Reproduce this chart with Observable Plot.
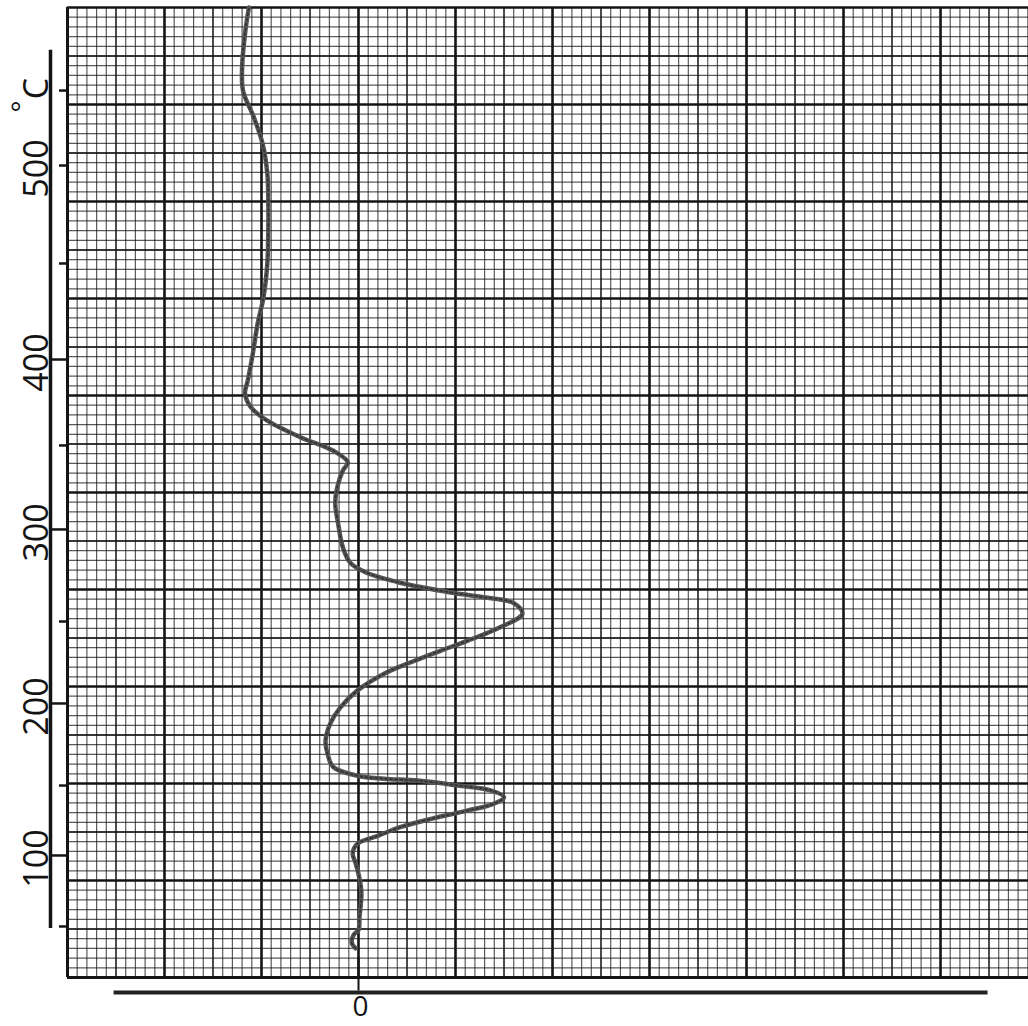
<!DOCTYPE html>
<html>
<head>
<meta charset="utf-8">
<script src="https://cdn.jsdelivr.net/npm/d3@7"></script>
<script src="https://cdn.jsdelivr.net/npm/@observablehq/plot@0.6"></script>
<style>
  html, body { margin: 0; padding: 0; background: #fff; }
  #chart svg { display: block; }
</style>
</head>
<body>
<div id="chart"></div>
<script>
// Thermal (DTA) record on millimetre chart paper.
// deflection: pen deflection from the zero line, in minor chart divisions
// position: distance along the chart from its bottom edge, in minor chart divisions
const deflection = [-0.3,-0.7,-0.5,0,0.1,0.3,0.1,-0.3,-0.6,-0.1,
  2.0,4.3,7.7,11.2,13.9,15.0,13.6,10.2,6.1,2.6,
  -0.1,-2.6,-3.2,-3.4,-2.9,-1.9,-0.1,2.6,5.4,8.5,
  11.2,14.6,16.9,16.0,12.9,9.5,4.3,0.9,-0.8,-1.6,
  -2.1,-2.4,-2.2,-1.6,-1.1,-2.6,-6.0,-9.4,-11.1,-11.7,
  -11.4,-10.9,-10.4,-9.8,-9.4,-9.3,-9.3,-9.4,-9.9,-10.8,
  -11.9,-12.0,-11.7,-11.3];
const position = [3.0,3.6,4.4,4.9,6.2,8.7,10.2,11.8,12.8,13.8,
  14.6,15.5,16.4,17.2,17.9,18.6,19.3,19.8,20.3,20.5,
  20.8,21.7,23.1,24.4,26.2,27.8,29.6,31.3,32.5,33.7,
  34.7,36.1,37.5,38.6,39.2,39.7,40.7,41.7,42.7,44.3,
  46.8,48.9,50.5,52.3,53.1,54.3,55.7,57.4,58.8,60.2,
  61.6,64.3,67.4,70.1,73.6,77.0,80.1,82.9,86.0,88.7,
  91.4,93.8,97.3,100.0];

// Temperature marks on the chart (°C) and where they fall along the chart
const tempValues = [50, 100, 150, 200, 250, 300, 350, 400, 450, 500, 550];
const tempPositions = [5.26, 12.58, 19.79, 28.25, 36.70, 46.19, 54.85, 63.71, 73.61, 83.71, 91.44];
const longTickTemps = [100, 200, 300, 400];
const labeledTemps = [100, 200, 300, 400, 500];
const unitLabel = "°C";
const zeroLabel = "0";

// ---- build ----
const curve = deflection.map((d, i) => ({d, v: position[i]}));
const posOf = t => tempPositions[tempValues.indexOf(t)];
const longTicks = longTickTemps.map(posOf);
const shortTicks = tempValues.filter(t => !longTickTemps.includes(t)).map(posOf);
const labels = labeledTemps.map(t => ({v: posOf(t), text: String(t)}));
const topTemp = tempValues[tempValues.length - 1];

const xMin = -30, xMax = 69.07;
const xs = d3.range(xMin, 70);
const ys = d3.range(0, 101);
const isMajor = k => ((k % 10) + 10) % 10 === 0;
const isMid = k => !isMajor(k) && ((k % 5) + 5) % 5 === 0;
const ink = "#141414";

const chart = Plot.plot({
  width: 1028,
  height: 1026,
  marginLeft: 67,
  marginRight: 0,
  marginTop: 7,
  marginBottom: 49,
  x: {domain: [xMin, xMax], axis: null},
  y: {domain: [0, 100]},
  style: {background: "#fff"},
  marks: [
    // chart paper grid
    Plot.ruleX(xs.filter(k => !isMajor(k) && !isMid(k)), {stroke: ink, strokeWidth: 1.2, strokeOpacity: 0.7}),
    Plot.ruleY(ys.filter(k => !isMajor(k) && !isMid(k)), {stroke: ink, strokeWidth: 1.2, strokeOpacity: 0.7}),
    Plot.ruleX(xs.filter(isMid), {stroke: ink, strokeWidth: 1.8, strokeOpacity: 0.85}),
    Plot.ruleY(ys.filter(isMid), {stroke: ink, strokeWidth: 1.8, strokeOpacity: 0.85}),
    Plot.ruleX(xs.filter(isMajor), {stroke: ink, strokeWidth: 2.6}),
    Plot.ruleY(ys.filter(isMajor), {stroke: ink, strokeWidth: 2.6}),
    Plot.ruleX([xMin], {stroke: ink, strokeWidth: 3}),
    Plot.ruleY([0], {stroke: ink, strokeWidth: 3}),

    // temperature scale at the left
    Plot.ruleX([xMin], {y1: tempPositions[0] - 0.2, y2: 95.6, dx: -17, stroke: ink, strokeWidth: 3.5}),
    Plot.axisY(longTicks, {anchor: "left", tickSize: 15, tickFormat: () => "", label: null, stroke: ink, strokeWidth: 2.5}),
    Plot.axisY(shortTicks, {anchor: "left", tickSize: 8, tickFormat: () => "", label: null, stroke: ink, strokeWidth: 2.5}),
    Plot.text(labels, {y: "v", text: "text", frameAnchor: "left", dx: -20, dy: 3, rotate: -90,
      textAnchor: "middle", lineAnchor: "bottom", fontSize: 34, fontFamily: "Open Sans", fill: ink}),
    Plot.text([{v: posOf(topTemp), text: unitLabel.slice(1)}], {y: "v", text: "text", frameAnchor: "left", dx: -20, dy: -2, rotate: -90,
      textAnchor: "middle", lineAnchor: "bottom", fontSize: 34, fontFamily: "Open Sans", fill: ink}),
    Plot.text([{v: posOf(topTemp), text: unitLabel.slice(0, 1)}], {y: "v", text: "text", frameAnchor: "left", dx: -36, dy: 16, rotate: -90,
      textAnchor: "middle", lineAnchor: "bottom", fontSize: 28, fontFamily: "Open Sans", fill: ink}),

    // zero line trace and deflection base bar
    Plot.ruleX([0], {y1: 2.1, y2: -1.4, stroke: ink, strokeWidth: 2}),
    Plot.ruleY([0], {x1: -25.2, x2: 64.9, dy: 15, stroke: "#222", strokeWidth: 4}),
    Plot.text([{d: 0, text: zeroLabel}], {x: "d", text: "text", frameAnchor: "bottom", dx: 2, dy: 30,
      lineAnchor: "middle", fontSize: 28, fontFamily: "Open Sans", fill: ink}),

    // the recorded curve
    Plot.line(curve, {x: "d", y: "v", curve: "catmull-rom", stroke: "#555", strokeWidth: 4.5, strokeLinecap: "round"}),
    Plot.line(curve, {x: "d", y: "v", curve: "catmull-rom", stroke: "#222", strokeWidth: 1.6, strokeDasharray: "2,3", strokeOpacity: 0.7})
  ]
});
document.getElementById("chart").appendChild(chart);
</script>
</body>
</html>
